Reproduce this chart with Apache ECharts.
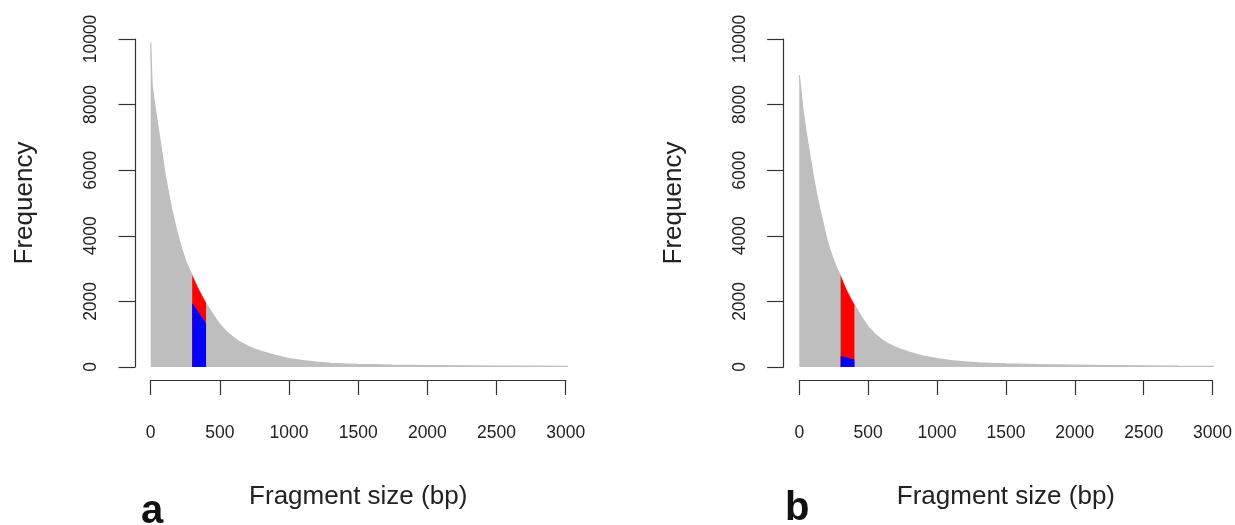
<!DOCTYPE html>
<html>
<head>
<meta charset="utf-8">
<script src="https://cdn.jsdelivr.net/npm/echarts@6/dist/echarts.min.js"></script>
<style>
html,body{margin:0;padding:0;background:#fff;}
#main{width:1235px;height:525px;}
</style>
</head>
<body>
<div id="main"></div>
<script>
// ---- data ----
const xTicks = [0, 500, 1000, 1500, 2000, 2500, 3000];
const yTicks = [0, 2000, 4000, 6000, 8000, 10000];

// panel a: fragment size (bp) and frequency (gray histogram outline)
const sizesA = [0, 10, 10, 25, 50, 75, 100, 125, 150, 175, 200, 225, 250, 275, 300, 325, 350, 375, 400,
  450, 500, 550, 600, 650, 700, 750, 800, 900, 1000, 1100, 1200, 1300, 1400, 1500, 1750, 2000, 2250, 2500, 2750, 3000, 3110];
const freqA = [9900, 9900, 8600, 8120, 7400, 6720, 5980, 5400, 4850, 4380, 3970, 3600, 3270, 3020, 2800, 2560, 2340, 2140, 1950,
  1600, 1300, 1070, 890, 750, 640, 550, 475, 355, 260, 195, 148, 115, 95, 80, 60, 46, 37, 29, 24, 19, 17];
// panel a: selected window (blue subset)
const blueSizesA = [300, 325, 350, 375, 400];
const blueFreqA = [1940, 1790, 1640, 1480, 1330];

// panel b
const sizesB = [0, 10, 25, 50, 75, 100, 125, 150, 175, 200, 225, 250, 275, 300, 325, 350, 375, 400,
  450, 500, 550, 600, 650, 700, 750, 800, 900, 1000, 1100, 1200, 1300, 1400, 1500, 1750, 2000, 2250, 2500, 2750, 3000, 3110];
const freqB = [8900, 8500, 7900, 7150, 6500, 5850, 5300, 4800, 4350, 3900, 3550, 3250, 2980, 2780, 2520, 2290, 2090, 1900,
  1540, 1230, 1000, 830, 700, 600, 520, 450, 335, 255, 198, 158, 130, 112, 98, 72, 55, 42, 33, 26, 21, 19];
const blueSizesB = [300, 350, 400];
const blueFreqB = [330, 280, 230];

const windowLo = 300, windowHi = 400;
const panelLabels = ['a', 'b'];
const xTitle = 'Fragment size (bp)';
const yTitle = 'Frequency';

// ---- build ----
function zip(xs, ys) { return xs.map((x, i) => [x, ys[i]]); }
function windowed(xs, ys) { return zip(xs, ys).filter(p => p[0] >= windowLo && p[0] <= windowHi); }

const FONT = '"Liberation Sans", Arial, sans-serif';
const AX = '#333';
const TXT = '#222';

const grids = [
  { left: 150.7, top: 39, width: 415, height: 328 },
  { left: 799.3, top: 39, width: 414, height: 328 }
];

function xAxisFor(i) {
  return {
    gridIndex: i, type: 'value', min: 0, max: 3000, interval: 500, offset: 13,
    axisLine: { show: true, onZero: false, lineStyle: { color: AX, width: 1.2 } },
    axisTick: { show: true, length: 15, lineStyle: { color: AX, width: 1.2 } },
    axisLabel: { margin: 45, color: TXT, fontSize: 17.5, fontFamily: FONT, lineHeight: 17,
      formatter: v => String(v) },
    splitLine: { show: false },
    name: xTitle, nameLocation: 'middle', nameGap: 104,
    nameTextStyle: { fontSize: 26, color: TXT, fontFamily: FONT }
  };
}
function yAxisFor(i) {
  return {
    gridIndex: i, type: 'value', min: 0, max: 10000, interval: 2000, offset: 15.7,
    axisLine: { show: true, onZero: false, lineStyle: { color: AX, width: 1.2 } },
    axisTick: { show: true, length: 16.5, lineStyle: { color: AX, width: 1.2 } },
    axisLabel: { rotate: 90, margin: 35, color: TXT, fontSize: 17.5, fontFamily: FONT, lineHeight: 17,
      formatter: v => String(v) },
    splitLine: { show: false },
    name: yTitle, nameLocation: 'middle', nameGap: 97,
    nameTextStyle: { fontSize: 26, color: TXT, fontFamily: FONT }
  };
}
function area(i, data, color, z, lw) {
  return {
    type: 'line', xAxisIndex: i, yAxisIndex: i, data: data, showSymbol: false, symbol: 'none',
    lineStyle: { width: lw, color: color }, areaStyle: { color: color, opacity: 1 },
    clip: false, silent: true, z: z, animation: false
  };
}

const option = {
  animation: false,
  backgroundColor: '#fff',
  grid: grids,
  xAxis: [xAxisFor(0), xAxisFor(1)],
  yAxis: [yAxisFor(0), yAxisFor(1)],
  series: [
    area(0, zip(sizesA, freqA), '#bebebe', 2, 1.2),
    area(0, windowed(sizesA, freqA), '#ff0000', 3, 0),
    area(0, zip(blueSizesA, blueFreqA), '#0000ff', 4, 0),
    area(1, zip(sizesB, freqB), '#bebebe', 2, 1.2),
    area(1, windowed(sizesB, freqB), '#ff0000', 3, 0),
    area(1, zip(blueSizesB, blueFreqB), '#0000ff', 4, 0)
  ],
  graphic: [
    { type: 'text', left: 141, top: 492, style: { text: panelLabels[0], fill: '#111', font: 'bold 40px "Liberation Sans Narrow", "Liberation Sans", sans-serif' } },
    { type: 'text', left: 785, top: 489, style: { text: panelLabels[1], fill: '#111', font: 'bold 40px "Liberation Sans Narrow", "Liberation Sans", sans-serif' } }
  ]
};

const chart = echarts.init(document.getElementById('main'), null, { renderer: 'canvas' });
chart.setOption(option);
</script>
</body>
</html>
